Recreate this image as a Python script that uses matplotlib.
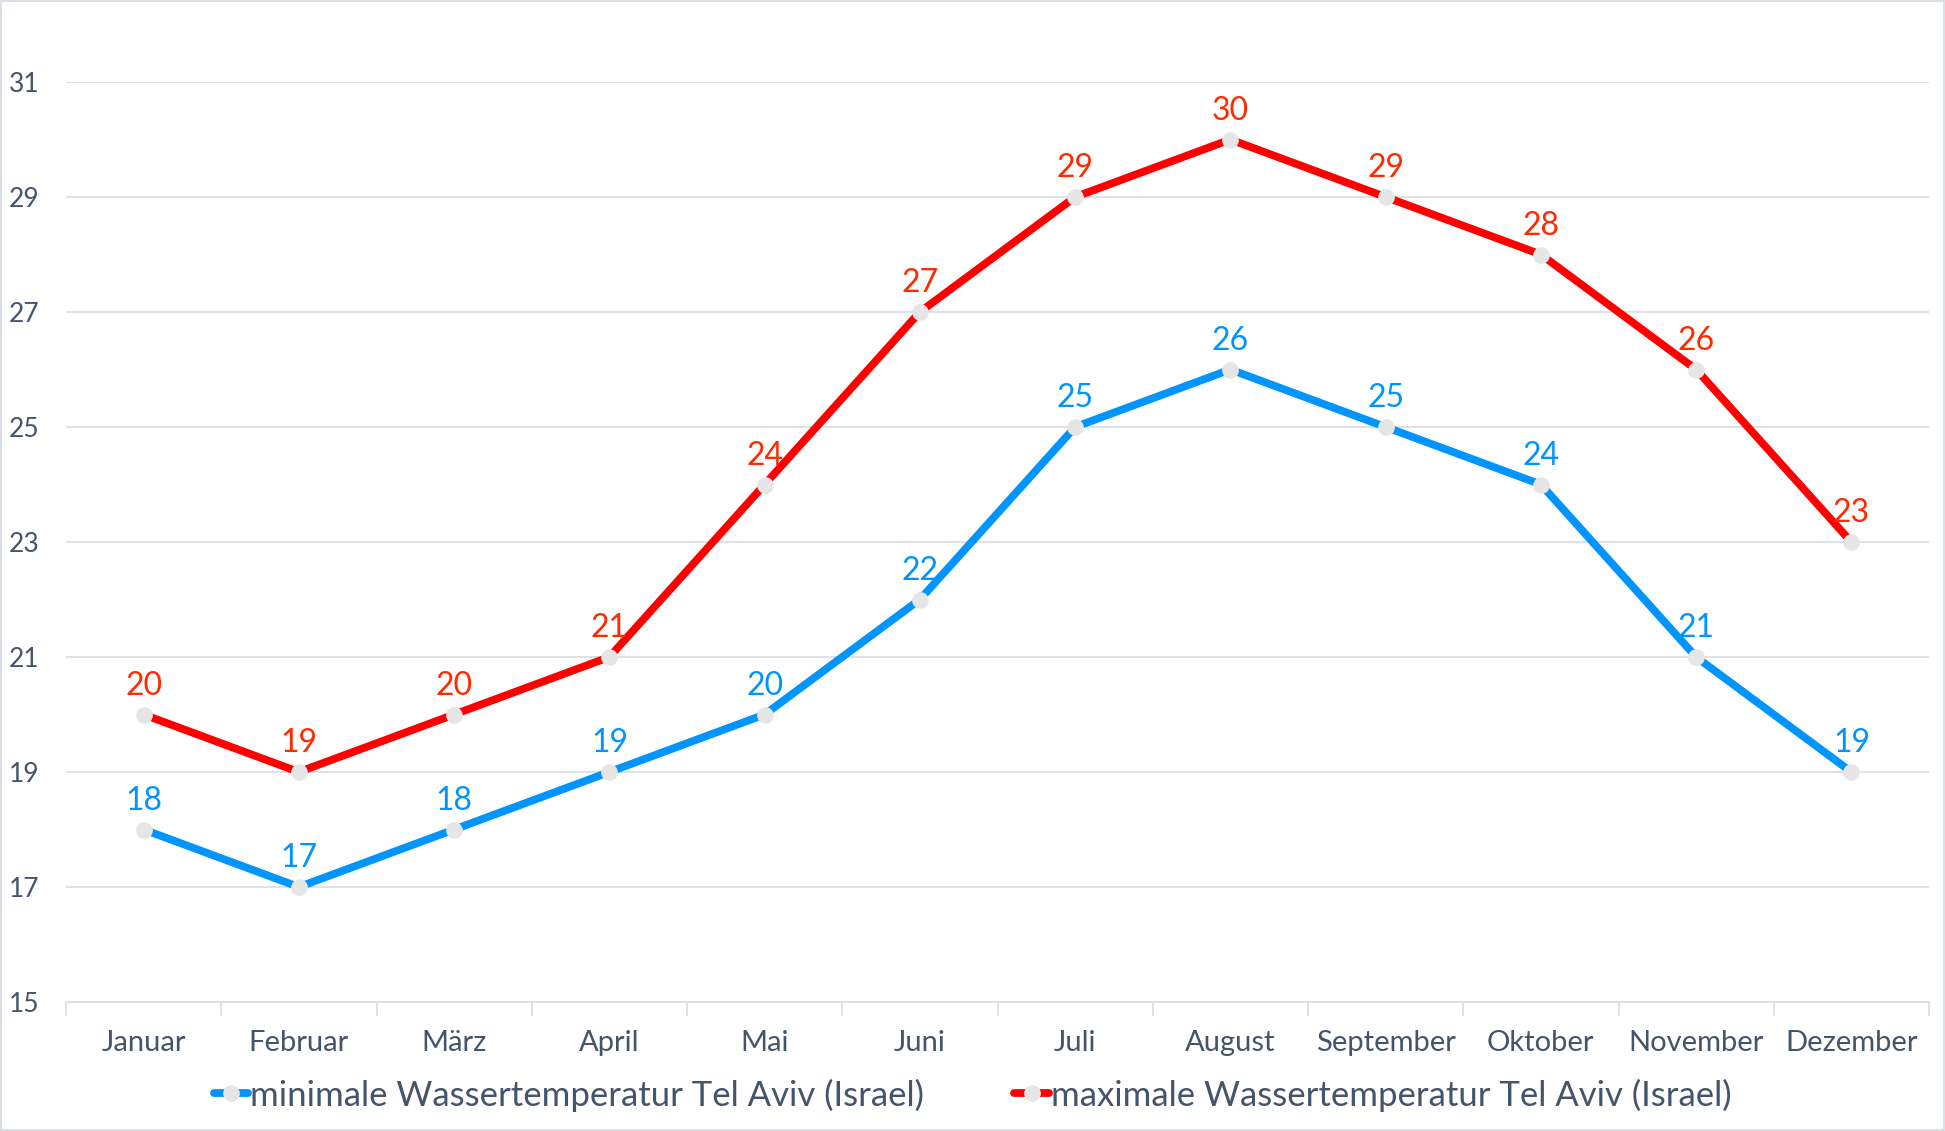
import numpy as np
import matplotlib
matplotlib.use('Agg')
import matplotlib.pyplot as plt
from matplotlib.patches import Rectangle

monate = ['Januar', 'Februar', 'März', 'April', 'Mai', 'Juni', 'Juli',
          'August', 'September', 'Oktober', 'November', 'Dezember']
wasser_min = [18, 17, 18, 19, 20, 22, 25, 26, 25, 24, 21, 19]
wasser_max = [20, 19, 20, 21, 24, 27, 29, 30, 29, 28, 26, 23]
y_ticks = [15, 17, 19, 21, 23, 25, 27, 29, 31]

plt.rcParams['font.family'] = ['Lato', 'DejaVu Sans']
textfarbe = '#44546A'
gitter = '#DCDEE6'

fig = plt.figure(figsize=(19.45, 11.31), dpi=100)
ax = fig.add_axes([66/1945, 1 - 1002/1131, (1929-66)/1945, (1002-82)/1131])

x = np.arange(len(monate))
serien = [
    (wasser_min, '#0094FF', '#0094FF', 'minimale Wassertemperatur Tel Aviv (Israel)'),
    (wasser_max, '#FF0000', '#FF2A00', 'maximale Wassertemperatur Tel Aviv (Israel)'),
]
for werte, farbe, lfarbe, name in serien:
    ax.plot(x, werte, color=farbe, lw=5.6, marker='o', ms=11,
            mfc='#E6E6E6', mec='#E6E6E6', label=name, solid_capstyle='round')
    for xi, v in zip(x, werte):
        ax.annotate(str(v), (xi, v), xytext=(0, 10), textcoords='offset points',
                    ha='center', va='bottom', fontsize=23, color=lfarbe)

ax.set_xlim(-0.5, len(monate) - 0.5)
ax.set_ylim(15, 31)
ax.set_yticks(y_ticks)
ax.set_xticks(x)
ax.set_xticklabels(monate)
ax.set_xticks(np.arange(-0.5, len(monate)), minor=True)
ax.tick_params(axis='x', which='major', length=0, pad=20, labelsize=21, labelcolor=textfarbe)
ax.tick_params(axis='x', which='minor', length=10, color=gitter, width=1.3)
ax.tick_params(axis='y', length=0, pad=41, labelsize=19, labelcolor=textfarbe)
for lab in ax.get_yticklabels():
    lab.set_horizontalalignment('left')
ax.grid(axis='y', color=gitter, lw=1.3)
ax.set_axisbelow(True)
for s in ['top', 'right', 'left']:
    ax.spines[s].set_visible(False)
ax.spines['bottom'].set_color(gitter)
ax.spines['bottom'].set_linewidth(1.3)

leg = fig.legend(loc='center', bbox_to_anchor=(0.5, 1 - 1095/1131), ncol=2,
                 frameon=False, fontsize=25, handlelength=1.0, handletextpad=0.05,
                 columnspacing=2.6, labelcolor=textfarbe)

fig.patches.append(Rectangle((0, 0), 1, 1, transform=fig.transFigure,
                             fill=False, edgecolor='#DCDEE6', lw=3))

fig.savefig('out.png', dpi=100)
